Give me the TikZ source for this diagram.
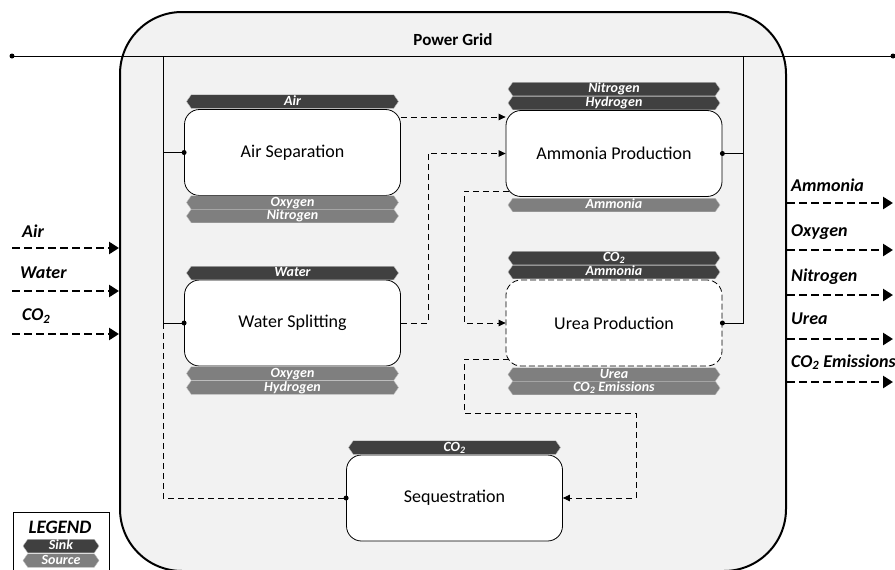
\documentclass[tikz,border=0pt]{standalone}
\usepackage{fontspec}
\setmainfont{Carlito}
\usetikzlibrary{arrows.meta,shapes.symbols}
\definecolor{sinkc}{HTML}{404040}
\definecolor{sourcec}{HTML}{7F7F7F}
\definecolor{bgc}{HTML}{F2F2F2}
\begin{document}
\begin{tikzpicture}[x=1pt,y=-1pt,
 proc/.style={draw=black, line width=0.8pt, fill=white, rounded corners=15pt, minimum width=216pt, minimum height=86pt, font=\fontsize{18}{20}\selectfont, inner sep=0pt},
 barbase/.style={signal, signal to=west and east, signal from=nowhere, signal pointer angle=110, minimum width=212pt, minimum height=13.5pt, inner sep=0pt, text=white, font=\fontsize{14}{14}\selectfont\bfseries\itshape, text height=9.5pt, text depth=2.5pt, draw=white!75!black, line width=0.4pt},
 sink/.style={barbase, fill=sinkc},
 source/.style={barbase, fill=sourcec},
 power/.style={line width=0.8pt, draw=black},
 flowline/.style={line width=0.8pt, dash pattern=on 6pt off 4pt},
 flow/.style={flowline, -{Triangle[length=7pt,width=6.5pt]}},
 bigflow/.style={line width=2.6pt, dash pattern=on 8pt off 4pt, -{Triangle[length=10pt,width=12pt]}},
 outlbl/.style={font=\fontsize{18}{20}\selectfont\bfseries\itshape, inner sep=0pt, anchor=west}
]
\useasboundingbox (0,0) rectangle (895,570);
\fill[white] (0,0) rectangle (895,570);
% grid frame
\draw[line width=2pt, fill=bgc, rounded corners=62pt] (120,12) rectangle (786,571);
\node[font=\fontsize{17}{20}\selectfont\bfseries, inner sep=0pt] (pg) at (453,40) {Power Grid};

% process boxes
\node[proc] (air) at (292.5,152.5) {Air Separation};
\node[proc] (amm) at (614,153.5) {Ammonia Production};
\node[proc] (water) at (292.5,323) {Water Splitting};
\node[proc, dash pattern=on 6pt off 3pt] (urea) at (614,323) {Urea Production};
\node[proc] (seq) at (454.5,498) {Sequestration};

% bars
\node[sink] (b1) at (292.5,101.5) {Air};
\node[source] (b2) at (292.5,202.5) {Oxygen};
\node[source] (b3) at (292.5,216) {Nitrogen};
\node[sink] (b4) at (614,89) {Nitrogen};
\node[sink] (b5) at (614,103) {Hydrogen};
\node[source] (b6) at (614,205) {Ammonia};
\node[sink] (b7) at (292.5,273) {Water};
\node[source] (b8) at (292.5,373.5) {Oxygen};
\node[source] (b9) at (292.5,387.5) {Hydrogen};
\node[sink] (b10) at (614,258) {CO\textsubscript{2}};
\node[sink] (b11) at (614,272) {Ammonia};
\node[source] (b12) at (614,374.5) {Urea};
\node[source] (b13) at (614,388) {CO\textsubscript{2} Emissions};
\node[sink] (b14) at (454.5,447.5) {CO\textsubscript{2}};

% power grid
\coordinate (gl) at (12,56);
\coordinate (gr) at (893,56);
\coordinate (lb) at (163,56);
\coordinate (rb) at (743,56);
\draw[power] (gl) -- (gr);
\draw[power] (lb) |- (water.west);
\draw[power] (lb |- air.west) -- (air.west);
\draw[power] (rb) |- (urea.east);
\draw[power] (rb |- amm.east) -- (amm.east);
\draw[flowline] (lb |- water.west) |- (seq.west);
\foreach \p in {gl,gr,air.west,water.west,amm.east,urea.east,seq.west}
  \fill (\p) circle (2.5pt);

% material flows
\coordinate (a1) at (0,117);
\coordinate (ammBL) at (509,191);
\coordinate (ureaBL) at (509,359);
\coordinate (k1) at (636,413);
\draw[flow] (air.east |- a1) -- (amm.west |- a1);
\draw[flow] (water.east) -- ++(27,0) |- (amm.west);
\draw[flow] (ammBL) -- ++(-45,0) |- (urea.west);
\draw[flow] (ureaBL) -- ++(-45,0) |- (k1) |- (seq.east);

% inputs
\coordinate (i1s) at (12,248); \coordinate (i1e) at (119,248);
\coordinate (i2s) at (12,291); \coordinate (i2e) at (119,291);
\coordinate (i3s) at (12,334); \coordinate (i3e) at (119,334);
\draw[bigflow] (i1s) -- (i1e);
\draw[bigflow] (i2s) -- (i2e);
\draw[bigflow] (i3s) -- (i3e);
\node[outlbl] (li1) at (22,231) {Air};
\node[outlbl] (li2) at (20,273) {Water};
\node[outlbl] (li3) at (22,316) {CO\textsubscript{2}};

% outputs
\coordinate (o1s) at (787,203); \coordinate (o1e) at (893,203);
\coordinate (o2s) at (787,250); \coordinate (o2e) at (893,250);
\coordinate (o3s) at (787,295); \coordinate (o3e) at (893,295);
\coordinate (o4s) at (787,339); \coordinate (o4e) at (893,339);
\coordinate (o5s) at (787,382); \coordinate (o5e) at (893,382);
\draw[bigflow] (o1s) -- (o1e);
\draw[bigflow] (o2s) -- (o2e);
\draw[bigflow] (o3s) -- (o3e);
\draw[bigflow] (o4s) -- (o4e);
\draw[bigflow] (o5s) -- (o5e);
\node[outlbl] (lo1) at (791,185) {Ammonia};
\node[outlbl] (lo2) at (791,232) {Oxygen};
\node[outlbl] (lo3) at (791,277) {Nitrogen};
\node[outlbl] (lo4) at (791,319) {Urea};
\node[outlbl] (lo5) at (791,362) {CO\textsubscript{2} Emissions};

% legend
\node[draw, line width=0.8pt, fill=white, minimum width=96pt, minimum height=70pt, anchor=north west, inner sep=0pt] (legend) at (13,512) {};
\node[font=\fontsize{19}{20}\selectfont\bfseries\itshape, inner sep=0pt] (lgt) at (60,527) {LEGEND};
\node[sink, minimum width=76pt] (lsink) at (61,546) {Sink};
\node[source, minimum width=76pt] (lsrc) at (61,560.5) {Source};
\end{tikzpicture}
\end{document}
